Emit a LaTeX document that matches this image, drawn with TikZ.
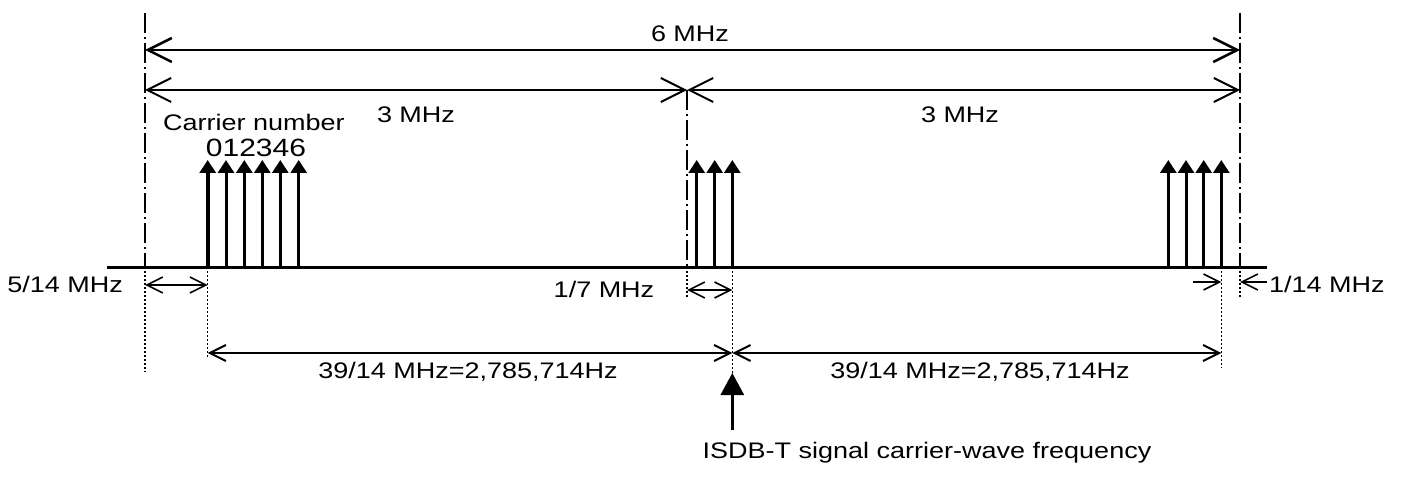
\documentclass[tikz,border=0pt]{standalone}
\usepackage{fontspec}
\setmainfont{Liberation Sans}[FakeStretch=1.2]
\usetikzlibrary{arrows.meta}
\begin{document}
\begin{tikzpicture}[x=1bp,y=-1bp,
  lbl/.style={font=\fontsize{22.5bp}{27bp}\selectfont, inner sep=0pt, anchor=base},
  dimbig/.style={line width=2bp, {Straight Barb[length=24bp,width=24bp]}-{Straight Barb[length=24bp,width=24bp]}},
  dimsmall/.style={line width=1.6bp, {Straight Barb[length=16bp,width=16bp]}-{Straight Barb[length=16bp,width=16bp]}},
  onetip/.style={line width=1.6bp, -{Straight Barb[length=16bp,width=16bp]}},
  carrier/.style={line width=3bp, -{Triangle[length=13bp,width=16bp]}},
  axisline/.style={dash pattern=on 20bp off 4bp on 2bp off 4bp, line width=1.5bp},
  guide/.style={dash pattern=on 1.5bp off 2.5bp, line width=1.5bp}]
\useasboundingbox[fill=white] (0,0) rectangle (1401,491);

% key coordinates
\coordinate (Ltop) at (145,13);
\coordinate (Lbase) at (145,267);
\coordinate (Lbot) at (145,372);
\coordinate (Mtop) at (687,90);
\coordinate (Mbase) at (687,267);
\coordinate (Mbot) at (687,298);
\coordinate (Rtop) at (1240,13);
\coordinate (Rbase) at (1240,267);
\coordinate (Rbot) at (1240,298);
\coordinate (BL) at (107,267);
\coordinate (BR) at (1267,267);

% baseline
\draw[line width=3bp] (BL) -- (BR);

% centre lines
\draw[axisline] (Ltop) -- (Lbase);
\draw[axisline] (Mtop) -- (Mbase);
\draw[axisline] (Rtop) -- (Rbase);
\draw[guide] (Lbase) -- (Lbot);
\draw[guide] (Mbase) -- (Mbot);
\draw[guide] (Rbase) -- (Rbot);

% carriers
\foreach \x/\w in {207.7/4,226/3,244.3/3,262.3/3,280.3/3,298.7/3}
  \draw[carrier, line width=\w bp] (\x,267) -- (\x,160);
\foreach \x in {696.7,714.7,732.3}
  \draw[carrier] (\x,267) -- (\x,160);
\foreach \x in {1168.3,1186,1203.7,1221.3}
  \draw[carrier] (\x,267) -- (\x,160);

% named edge carriers
\coordinate (C0) at (207.7,267);
\coordinate (C0b) at (207.7,357);
\coordinate (Cc) at (732.3,267);
\coordinate (Ccb) at (732.3,373);
\coordinate (Ce) at (1221.3,267);
\coordinate (Ceb) at (1221.3,368);
\draw[guide] (C0) -- (C0b);
\draw[guide] (Cc) -- (Ccb);
\draw[guide] (Ce) -- (Ceb);

% 6 MHz and 3 MHz
\coordinate (S6L) at (145,50);
\coordinate (S6R) at (1240,50);
\draw[dimbig, line width=2.5bp] (S6L) -- (S6R);
\coordinate (S3L) at (145,90);
\coordinate (S3M) at (687,90);
\coordinate (S3R) at (1240,90);
\draw[dimbig] (S3L) -- (S3M);
\draw[dimbig] (S3M) -- (S3R);
\node[lbl] (t6) at (690,42) {6 MHz};
\node[lbl] (t3a) at (416,123) {3 MHz};
\node[lbl] (t3b) at (960,123) {3 MHz};
\node[lbl] (tcn) at (254,131) {Carrier number};
\node[lbl, font=\fontsize{25bp}{30bp}\selectfont] (tnum) at (256,157) {012346};

% 5/14 MHz
\coordinate (A1) at (145,285);
\coordinate (A2) at (207.7,285);
\draw[dimsmall] (A1) -- (A2);
\node[lbl, anchor=base east] (t514) at (123,292) {5/14 MHz};

% 1/7 MHz
\coordinate (B1) at (687,290);
\coordinate (B2) at (732.3,290);
\draw[dimsmall] (B1) -- (B2);
\node[lbl] (t17) at (604,297) {1/7 MHz};

% 1/14 MHz
\coordinate (D1) at (1193,282);
\coordinate (D2) at (1221.3,282);
\coordinate (D3) at (1267,282);
\coordinate (D4) at (1240,282);
\draw[onetip] (D1) -- (D2);
\draw[onetip] (D3) -- (D4);
\node[lbl, anchor=base west] (t114) at (1269,292) {1/14 MHz};

% 39/14 MHz
\coordinate (E1) at (207.7,353);
\coordinate (E2) at (732.3,353);
\coordinate (E3) at (1221.3,353);
\draw[dimsmall, line width=2bp] (E1) -- (E2);
\draw[dimsmall, line width=2bp] (E2) -- (E3);
\node[lbl] (t39a) at (468,378) {39/14 MHz=2,785,714Hz};
\node[lbl] (t39b) at (980,378) {39/14 MHz=2,785,714Hz};

% ISDB-T carrier
\coordinate (F1) at (732.3,430);
\coordinate (F2) at (732.3,373);
\draw[line width=3bp, -{Triangle[length=22bp,width=23bp]}] (F1) -- (F2);
\node[lbl] (tisdb) at (927,458) {ISDB-T signal carrier-wave frequency};
\end{tikzpicture}
\end{document}
